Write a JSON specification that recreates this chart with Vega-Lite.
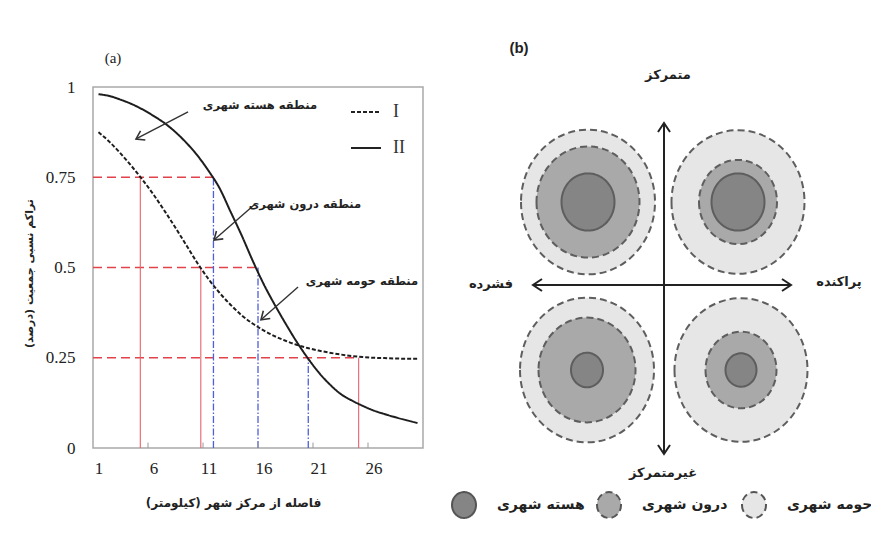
{
  "$schema": "https://vega.github.io/schema/vega-lite/v6.json",
  "background": "white",
  "padding": {"left": 22, "top": 25, "right": 0, "bottom": 0},
  "bounds": "flush",
  "center": true,
  "spacing": 28,
  "resolve": {
    "scale": {"strokeDash": "independent", "fill": "independent", "size": "independent", "angle": "independent"},
    "legend": {"strokeDash": "independent", "fill": "independent"}
  },
  "datasets": {
    "curves": [
      {"series": "I", "x": 1, "y": 0.875}, {"series": "I", "x": 2, "y": 0.848}, {"series": "I", "x": 3, "y": 0.816}, {"series": "I", "x": 4, "y": 0.781}, {"series": "I", "x": 5, "y": 0.743},
      {"series": "I", "x": 6, "y": 0.702}, {"series": "I", "x": 7, "y": 0.657}, {"series": "I", "x": 8, "y": 0.61}, {"series": "I", "x": 9, "y": 0.561}, {"series": "I", "x": 10, "y": 0.512},
      {"series": "I", "x": 11, "y": 0.468}, {"series": "I", "x": 12, "y": 0.43}, {"series": "I", "x": 13, "y": 0.397}, {"series": "I", "x": 14, "y": 0.368}, {"series": "I", "x": 15, "y": 0.345},
      {"series": "I", "x": 16, "y": 0.326}, {"series": "I", "x": 17, "y": 0.31}, {"series": "I", "x": 18, "y": 0.297}, {"series": "I", "x": 19, "y": 0.286}, {"series": "I", "x": 20, "y": 0.277},
      {"series": "I", "x": 21, "y": 0.27}, {"series": "I", "x": 22, "y": 0.264}, {"series": "I", "x": 23, "y": 0.259}, {"series": "I", "x": 24, "y": 0.255}, {"series": "I", "x": 25, "y": 0.252},
      {"series": "I", "x": 26, "y": 0.25}, {"series": "I", "x": 27, "y": 0.249}, {"series": "I", "x": 28, "y": 0.248}, {"series": "I", "x": 29, "y": 0.247}, {"series": "I", "x": 30, "y": 0.247},
      {"series": "II", "x": 1, "y": 0.98}, {"series": "II", "x": 2, "y": 0.975}, {"series": "II", "x": 3, "y": 0.965}, {"series": "II", "x": 4, "y": 0.953}, {"series": "II", "x": 5, "y": 0.938},
      {"series": "II", "x": 6, "y": 0.92}, {"series": "II", "x": 7, "y": 0.9}, {"series": "II", "x": 8, "y": 0.875}, {"series": "II", "x": 9, "y": 0.845}, {"series": "II", "x": 10, "y": 0.81},
      {"series": "II", "x": 11, "y": 0.768}, {"series": "II", "x": 12, "y": 0.72}, {"series": "II", "x": 13, "y": 0.655}, {"series": "II", "x": 14, "y": 0.59}, {"series": "II", "x": 15, "y": 0.52},
      {"series": "II", "x": 16, "y": 0.455}, {"series": "II", "x": 17, "y": 0.398}, {"series": "II", "x": 18, "y": 0.345}, {"series": "II", "x": 19, "y": 0.295}, {"series": "II", "x": 20, "y": 0.25},
      {"series": "II", "x": 21, "y": 0.21}, {"series": "II", "x": 22, "y": 0.177}, {"series": "II", "x": 23, "y": 0.15}, {"series": "II", "x": 24, "y": 0.132}, {"series": "II", "x": 25, "y": 0.117},
      {"series": "II", "x": 26, "y": 0.104}, {"series": "II", "x": 27, "y": 0.094}, {"series": "II", "x": 28, "y": 0.085}, {"series": "II", "x": 29, "y": 0.077}, {"series": "II", "x": 30, "y": 0.069}
    ],
    "hlines": [
      {"y": 0.75, "x1": 0.5, "x2": 11.45},
      {"y": 0.5, "x1": 0.5, "x2": 15.5},
      {"y": 0.25, "x1": 0.5, "x2": 24.65}
    ],
    "redv": [
      {"x": 4.8, "y1": 0, "y2": 0.75},
      {"x": 10.3, "y1": 0, "y2": 0.5},
      {"x": 24.65, "y1": 0, "y2": 0.25}
    ],
    "bluev": [
      {"x": 11.45, "y1": 0, "y2": 0.75},
      {"x": 15.5, "y1": 0, "y2": 0.5},
      {"x": 20.07, "y1": 0, "y2": 0.25}
    ],
    "ticksA": [
      {"x": 5.5, "y1": 0, "y2": 0.015}, {"x": 10.5, "y1": 0, "y2": 0.015}, {"x": 15.5, "y1": 0, "y2": 0.015},
      {"x": 20.5, "y1": 0, "y2": 0.015}, {"x": 25.5, "y1": 0, "y2": 0.015}
    ],
    "arrowsA": [
      {"x1": 9.14, "y1": 0.931, "x2": 4.41, "y2": 0.856, "angle": 242.6},
      {"x1": 15.14, "y1": 0.673, "x2": 11.5, "y2": 0.576, "angle": 228.8},
      {"x1": 19.14, "y1": 0.446, "x2": 15.77, "y2": 0.355, "angle": 228.3}
    ],
    "notesA": [
      {"text": "منطقه هسته شهری", "x": 15.68, "y": 0.947},
      {"text": "منطقه درون شهری", "x": 19.77, "y": 0.673},
      {"text": "منطقه حومه شهری", "x": 24.95, "y": 0.46}
    ],
    "panelA": [{"text": "(a)", "x": 2.32, "y": 1.08}],
    "rings": [
      {"quad": "TL", "cx": -76, "cy": 83, "ring": "حومه شهری", "z": 1, "r": 67},
      {"quad": "TL", "cx": -76, "cy": 83, "ring": "درون شهری", "z": 2, "r": 51.5},
      {"quad": "TL", "cx": -76, "cy": 83, "ring": "هسته شهری", "z": 3, "r": 26.5},
      {"quad": "TR", "cx": 74, "cy": 83, "ring": "حومه شهری", "z": 1, "r": 66.5},
      {"quad": "TR", "cx": 74, "cy": 83, "ring": "درون شهری", "z": 2, "r": 39},
      {"quad": "TR", "cx": 74, "cy": 83, "ring": "هسته شهری", "z": 3, "r": 26.5},
      {"quad": "BL", "cx": -77, "cy": -85, "ring": "حومه شهری", "z": 1, "r": 67},
      {"quad": "BL", "cx": -77, "cy": -85, "ring": "درون شهری", "z": 2, "r": 48.5},
      {"quad": "BL", "cx": -77, "cy": -85, "ring": "هسته شهری", "z": 3, "r": 16},
      {"quad": "BR", "cx": 77, "cy": -85, "ring": "حومه شهری", "z": 1, "r": 66.5},
      {"quad": "BR", "cx": 77, "cy": -85, "ring": "درون شهری", "z": 2, "r": 35.5},
      {"quad": "BR", "cx": 77, "cy": -85, "ring": "هسته شهری", "z": 3, "r": 15.5}
    ],
    "crossAxes": [
      {"x1": 0, "y1": -169, "x2": 0, "y2": 162},
      {"x1": -131, "y1": 0, "x2": 127, "y2": 0}
    ],
    "crossHeads": [
      {"x": 0, "y": 162, "angle": 0},
      {"x": 0, "y": -169, "angle": 180},
      {"x": -131, "y": 0, "angle": 270},
      {"x": 127, "y": 0, "angle": 90}
    ],
    "labelsB": [
      {"text": "متمرکز", "x": 4, "y": 210},
      {"text": "فشرده", "x": -173, "y": 1},
      {"text": "پراکنده", "x": 175, "y": 3},
      {"text": "غیرمتمرکز", "x": -1, "y": -188}
    ],
    "panelB": [{"text": "(b)", "x": -145, "y": 237}]
  },
  "hconcat": [
    {
      "width": 330,
      "height": 361,
      "view": {"stroke": "#a9a9a9", "strokeWidth": 1.5},
      "layer": [
        {
          "data": {"name": "hlines"},
          "mark": {"type": "rule", "color": "#e2434b", "strokeWidth": 1.6, "strokeDash": [9, 5]},
          "encoding": {
            "x": {
              "field": "x1", "type": "quantitative",
              "scale": {"domain": [0.5, 30.5], "nice": false, "zero": false},
              "axis": {
                "values": [1, 6, 11, 16, 21, 26],
                "ticks": false, "domain": false, "grid": false,
                "labelFont": "Liberation Serif", "labelFontSize": 17, "labelColor": "#222",
                "labelPadding": 12,
                "title": "فاصله از مرکز شهر (کیلومتر)‏",
                "titleFont": "DejaVu Sans", "titleFontSize": 12, "titleFontWeight": "bold", "titleColor": "#222",
                "titleX": 140, "titleY": 54, "titleBaseline": "middle", "titleAlign": "center"
              }
            },
            "x2": {"field": "x2"},
            "y": {
              "field": "y", "type": "quantitative",
              "scale": {"domain": [0, 1], "nice": false, "zero": false},
              "axis": {
                "values": [0, 0.25, 0.5, 0.75, 1],
                "labelExpr": "datum.value + ''",
                "ticks": false, "domain": false, "grid": false,
                "labelFont": "Liberation Serif", "labelFontSize": 17, "labelColor": "#222",
                "labelPadding": 18,
                "title": "تراکم نسبی جمعیت (درصد)‏",
                "titleFont": "DejaVu Sans", "titleFontSize": 11, "titleFontWeight": "bold", "titleColor": "#222",
                "titleX": -64, "titleY": 186, "titleAngle": 270, "titleBaseline": "middle", "titleAlign": "center"
              }
            }
          }
        },
        {
          "data": {"name": "redv"},
          "mark": {"type": "rule", "color": "#e5636a", "strokeWidth": 1.1},
          "encoding": {
            "x": {"field": "x", "type": "quantitative"},
            "y": {"field": "y1", "type": "quantitative"},
            "y2": {"field": "y2"}
          }
        },
        {
          "data": {"name": "bluev"},
          "mark": {"type": "rule", "color": "#4f5fd8", "strokeWidth": 1.3, "strokeDash": [7, 2, 1.5, 2]},
          "encoding": {
            "x": {"field": "x", "type": "quantitative"},
            "y": {"field": "y1", "type": "quantitative"},
            "y2": {"field": "y2"}
          }
        },
        {
          "data": {"name": "ticksA"},
          "mark": {"type": "rule", "color": "#999999", "strokeWidth": 1},
          "encoding": {
            "x": {"field": "x", "type": "quantitative"},
            "y": {"field": "y1", "type": "quantitative"},
            "y2": {"field": "y2"}
          }
        },
        {
          "data": {"name": "curves"},
          "mark": {"type": "line", "color": "#1e1e1e", "strokeWidth": 2, "interpolate": "monotone"},
          "encoding": {
            "x": {"field": "x", "type": "quantitative"},
            "y": {"field": "y", "type": "quantitative"},
            "strokeDash": {
              "field": "series", "type": "nominal",
              "scale": {"domain": ["I", "II"], "range": [[4, 2], [1, 0]]},
              "legend": {
                "orient": "none", "legendX": 257, "legendY": 9,
                "title": null, "padding": 0,
                "symbolType": "stroke", "symbolSize": 900,
                "symbolStrokeColor": "#222", "symbolStrokeWidth": 2,
                "labelFont": "Liberation Serif", "labelFontSize": 18, "labelColor": "#333",
                "labelOffset": 11, "rowPadding": 11
              }
            }
          }
        },
        {
          "data": {"name": "arrowsA"},
          "mark": {"type": "rule", "color": "#333333", "strokeWidth": 1.4},
          "encoding": {
            "x": {"field": "x1", "type": "quantitative"},
            "y": {"field": "y1", "type": "quantitative"},
            "x2": {"field": "x2"},
            "y2": {"field": "y2"}
          }
        },
        {
          "data": {"name": "arrowsA"},
          "mark": {"type": "point", "shape": "M-0.6,0.9L0,0L0.6,0.9", "filled": false, "color": "#333333", "strokeWidth": 1.6, "size": 300, "opacity": 1},
          "encoding": {
            "x": {"field": "x2", "type": "quantitative"},
            "y": {"field": "y2", "type": "quantitative"},
            "angle": {"field": "angle", "type": "quantitative", "scale": null}
          }
        },
        {
          "data": {"name": "notesA"},
          "mark": {"type": "text", "font": "DejaVu Sans", "fontSize": 11.5, "fontWeight": "bold", "color": "#222", "dir": "rtl", "align": "center", "baseline": "middle"},
          "encoding": {
            "x": {"field": "x", "type": "quantitative"},
            "y": {"field": "y", "type": "quantitative"},
            "text": {"field": "text"}
          }
        },
        {
          "data": {"name": "panelA"},
          "mark": {"type": "text", "font": "Liberation Serif", "fontSize": 15, "color": "#222", "align": "center", "baseline": "middle"},
          "encoding": {
            "x": {"field": "x", "type": "quantitative"},
            "y": {"field": "y", "type": "quantitative"},
            "text": {"field": "text"}
          }
        }
      ]
    },
    {
      "width": 420,
      "height": 485,
      "view": {"stroke": null},
      "layer": [
        {
          "data": {"name": "rings"},
          "mark": {"type": "point", "filled": true, "opacity": 1, "shape": "M-1,0A1,1.08,0,1,0,1,0A1,1.08,0,1,0,-1,0Z", "stroke": "#5e5e5e", "strokeWidth": 2},
          "encoding": {
            "x": {"field": "cx", "type": "quantitative", "scale": {"domain": [-213, 207], "nice": false, "zero": false}, "axis": null},
            "y": {"field": "cy", "type": "quantitative", "scale": {"domain": [-225, 260], "nice": false, "zero": false}, "axis": null},
            "size": {"field": "r", "type": "quantitative", "scale": {"type": "pow", "exponent": 2, "domain": [0, 100], "range": [0, 40000]}, "legend": null},
            "order": {"field": "z", "type": "quantitative"},
            "fill": {
              "field": "ring", "type": "nominal",
              "scale": {"domain": ["هسته شهری", "درون شهری", "حومه شهری"], "range": ["#858585", "#a9a9a9", "#e6e6e6"]},
              "legend": {
                "orient": "none", "legendX": 0, "legendY": 467, "direction": "horizontal", "columns": 3,
                "title": null, "padding": 0,
                "symbolType": "M-1,0A1,1.08,0,1,0,1,0A1,1.08,0,1,0,-1,0Z", "symbolSize": 576,
                "symbolStrokeColor": "#555", "symbolStrokeWidth": 2,
                "labelFont": "DejaVu Sans", "labelFontSize": 14, "labelFontWeight": "bold", "labelColor": "#222",
                "labelOffset": 20, "columnPadding": 8, "gridAlign": "all"
              }
            },
            "strokeDash": {
              "field": "ring", "type": "nominal",
              "scale": {"domain": ["هسته شهری", "درون شهری", "حومه شهری"], "range": [[1, 0], [7, 4], [7, 4]]},
              "legend": {
                "orient": "none", "legendX": 0, "legendY": 467, "direction": "horizontal", "columns": 3,
                "title": null, "padding": 0,
                "symbolType": "M-1,0A1,1.08,0,1,0,1,0A1,1.08,0,1,0,-1,0Z", "symbolSize": 576,
                "symbolStrokeColor": "#555", "symbolStrokeWidth": 2,
                "labelFont": "DejaVu Sans", "labelFontSize": 14, "labelFontWeight": "bold", "labelColor": "#222",
                "labelOffset": 20, "columnPadding": 8, "gridAlign": "all"
              }
            }
          }
        },
        {
          "data": {"name": "crossAxes"},
          "mark": {"type": "rule", "color": "#222222", "strokeWidth": 2},
          "encoding": {
            "x": {"field": "x1", "type": "quantitative", "axis": null},
            "y": {"field": "y1", "type": "quantitative", "axis": null},
            "x2": {"field": "x2"},
            "y2": {"field": "y2"}
          }
        },
        {
          "data": {"name": "crossHeads"},
          "mark": {"type": "point", "shape": "M-0.6,0.9L0,0L0.6,0.9", "filled": false, "color": "#222222", "strokeWidth": 2, "size": 400, "opacity": 1},
          "encoding": {
            "x": {"field": "x", "type": "quantitative", "axis": null},
            "y": {"field": "y", "type": "quantitative", "axis": null},
            "angle": {"field": "angle", "type": "quantitative", "scale": null}
          }
        },
        {
          "data": {"name": "labelsB"},
          "mark": {"type": "text", "font": "DejaVu Sans", "fontSize": 13, "fontWeight": "bold", "color": "#222", "dir": "rtl", "align": "center", "baseline": "middle"},
          "encoding": {
            "x": {"field": "x", "type": "quantitative", "axis": null},
            "y": {"field": "y", "type": "quantitative", "axis": null},
            "text": {"field": "text"}
          }
        },
        {
          "data": {"name": "panelB"},
          "mark": {"type": "text", "font": "Liberation Sans", "fontSize": 15, "fontWeight": "bold", "color": "#222", "align": "center", "baseline": "middle"},
          "encoding": {
            "x": {"field": "x", "type": "quantitative", "axis": null},
            "y": {"field": "y", "type": "quantitative", "axis": null},
            "text": {"field": "text"}
          }
        }
      ]
    }
  ]
}
